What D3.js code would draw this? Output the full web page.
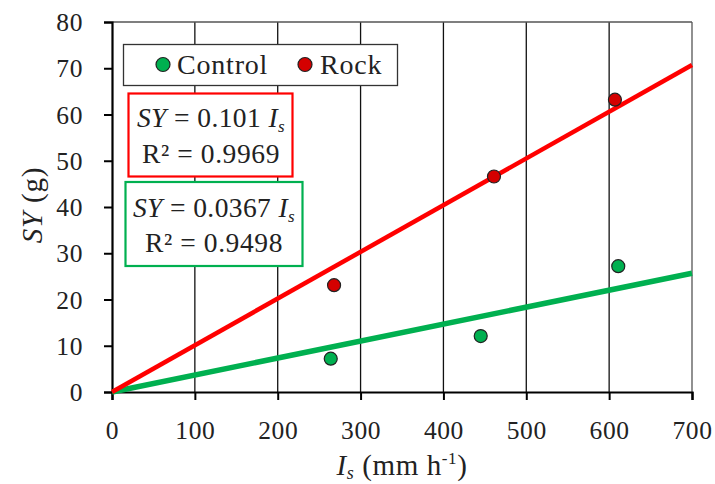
<!DOCTYPE html>
<html>
<head>
<meta charset="utf-8">
<script src="https://cdn.jsdelivr.net/npm/d3@7"></script>
<style>
  html, body { margin: 0; padding: 0; background: #fff; }
  svg { display: block; }
  text { font-family: "Liberation Serif", "Times New Roman", serif; fill: #222; }
</style>
</head>
<body>
<svg id="chart" width="715" height="484"></svg>
<script>
// ---- data ----
const seriesNames = ["Control", "Rock"];
const controlX = [264, 445, 611];
const controlY = [7.2, 12.1, 27.2];
const rockX = [268, 461, 607];
const rockY = [23.1, 46.6, 63.2];
const slopes = [0.0367, 0.101];
const r2Labels = ["0.9498", "0.9969"];
const slopeLabels = ["0.0367", "0.101"];
const xTicks = [0, 100, 200, 300, 400, 500, 600, 700];
const yTicks = [0, 10, 20, 30, 40, 50, 60, 70, 80];

const colors = { Control: "#00b050", Rock: "#ff0000" };
const markerFill = { Control: "#00b050", Rock: "#d40000" };

const svg = d3.select("#chart");
const x = d3.scaleLinear().domain([0, 700]).range([112, 692]);
const y = d3.scaleLinear().domain([0, 80]).range([392, 22]);

// vertical gridlines
svg.append("g").selectAll("line").data(xTicks.filter(d => d > 0 && d < 700)).join("line")
  .attr("x1", d => x(d)).attr("x2", d => x(d))
  .attr("y1", y(0)).attr("y2", y(80))
  .attr("stroke", "#111").attr("stroke-width", 1.3);

// top and right border
svg.append("line").attr("x1", x(0)).attr("x2", x(700)).attr("y1", y(80)).attr("y2", y(80))
  .attr("stroke", "#555").attr("stroke-width", 1.3);
svg.append("line").attr("x1", x(700)).attr("x2", x(700)).attr("y1", y(80)).attr("y2", y(0))
  .attr("stroke", "#555").attr("stroke-width", 1.3);

// axes
const xAxis = svg.append("g").attr("transform", `translate(0,${y(0)})`)
  .call(d3.axisBottom(x).tickValues(xTicks).tickSize(8).tickPadding(14).tickFormat(d3.format("d")));
const yAxis = svg.append("g").attr("transform", `translate(${x(0)},0)`)
  .call(d3.axisLeft(y).tickValues(yTicks).tickSize(8).tickPadding(21).tickFormat(d3.format("d")));
[xAxis, yAxis].forEach(a => {
  a.select(".domain").attr("stroke", "#000").attr("stroke-width", 2.2);
  a.selectAll(".tick line").attr("stroke", "#000").attr("stroke-width", 2);
  a.selectAll(".tick text").style("font-family", '"Liberation Serif", serif')
    .style("font-size", "25.5px").style("letter-spacing", "0.6px").attr("fill", "#222");
});
yAxis.selectAll(".tick text").attr("dy", "0.34em");
xAxis.selectAll(".tick text").attr("y", 47).attr("dy", 0);

// trend lines
const trend = [
  { name: "Control", slope: slopes[0] },
  { name: "Rock", slope: slopes[1] }
];
const lineGen = d3.line().x(d => x(d[0])).y(d => y(d[1]));
svg.append("g").selectAll("path").data(trend).join("path")
  .attr("d", d => lineGen([[0, 0], [700, d.slope * 700]]))
  .attr("fill", "none")
  .attr("stroke", d => colors[d.name])
  .attr("stroke-width", d => d.name === "Control" ? 5.5 : 4.5);

// points
const pts = [];
controlX.forEach((v, i) => pts.push({ name: "Control", x: v, y: controlY[i] }));
rockX.forEach((v, i) => pts.push({ name: "Rock", x: v, y: rockY[i] }));
svg.append("g").selectAll("circle").data(pts).join("circle")
  .attr("cx", d => x(d.x)).attr("cy", d => y(d.y)).attr("r", 6.5)
  .attr("fill", d => markerFill[d.name]).attr("stroke", "#222").attr("stroke-width", 1.2);

// legend
const lg = svg.append("g");
lg.append("rect").attr("x", 123.5).attr("y", 44.5).attr("width", 274).attr("height", 41)
  .attr("fill", "#fff").attr("stroke", "#333").attr("stroke-width", 1.3);
const legendItems = [
  { name: seriesNames[0], cx: 163, tx: 177 },
  { name: seriesNames[1], cx: 305, tx: 320 }
];
legendItems.forEach(it => {
  lg.append("circle").attr("cx", it.cx).attr("cy", 64.5).attr("r", 7)
    .attr("fill", markerFill[it.name]).attr("stroke", "#222").attr("stroke-width", 1.2);
  lg.append("text").attr("x", it.tx).attr("y", 74).style("font-size", "28px")
    .style("letter-spacing", "0.8px").text(it.name);
});

// equation boxes
function eqBox(bx, by, bw, bh, color, slopeTxt, r2Txt, cx, y1, y2) {
  const g = svg.append("g");
  g.append("rect").attr("x", bx).attr("y", by).attr("width", bw).attr("height", bh)
    .attr("fill", "#fff").attr("stroke", color).attr("stroke-width", 2.2);
  const t1 = g.append("text").attr("x", cx).attr("y", y1).attr("text-anchor", "middle")
    .style("font-size", "27.5px").style("letter-spacing", "0.4px");
  t1.append("tspan").style("font-style", "italic").text("SY");
  t1.append("tspan").text(" = " + slopeTxt + " ");
  t1.append("tspan").style("font-style", "italic").text("I");
  t1.append("tspan").style("font-style", "italic").style("font-size", "17px").attr("dy", 5).text("s");
  const t2 = g.append("text").attr("x", cx).attr("y", y2).attr("text-anchor", "middle")
    .style("font-size", "27.5px").style("letter-spacing", "0.6px");
  t2.text("R² = " + r2Txt);
}
eqBox(128.5, 93.5, 164, 83, colors.Rock, slopeLabels[1], r2Labels[1], 211, 127, 163);
eqBox(125.5, 182, 177, 84, colors.Control, slopeLabels[0], r2Labels[0], 214, 217, 252);

// axis titles
const yt = svg.append("text").attr("transform", "translate(42,205) rotate(-90)")
  .attr("text-anchor", "middle").style("font-size", "29px").style("letter-spacing", "0.8px");
yt.append("tspan").style("font-style", "italic").text("SY");
yt.append("tspan").text(" (g)");

const xt = svg.append("text").attr("x", 402).attr("y", 475).attr("text-anchor", "middle")
  .style("font-size", "29px").style("letter-spacing", "0.6px");
xt.append("tspan").style("font-style", "italic").text("I");
xt.append("tspan").style("font-style", "italic").style("font-size", "18px").attr("dy", 4).text("s");
xt.append("tspan").attr("dy", -4).text(" (mm h");
xt.append("tspan").style("font-size", "17px").attr("dy", -11).text("-1");
xt.append("tspan").attr("dy", 11).text(")");
</script>
</body>
</html>
